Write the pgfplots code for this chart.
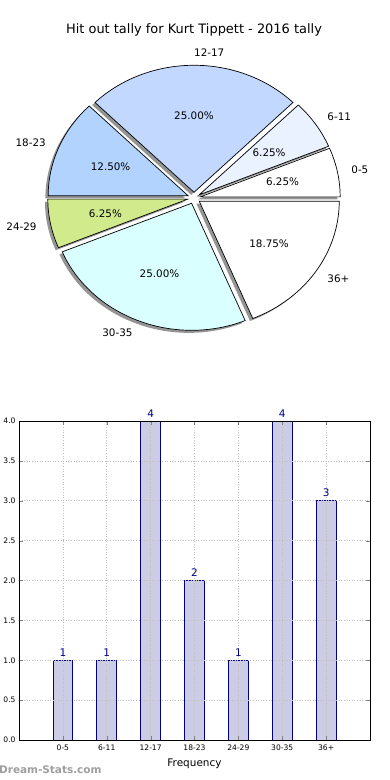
\documentclass[border=0pt]{standalone}
\usepackage{fontspec}
\setmainfont{DejaVu Sans}
\usepackage{pgfplots}
\usepackage{pgfplotstable}
\pgfplotsset{compat=1.18}
\definecolor{pie0}{RGB}{255,255,255}
\definecolor{pie1}{RGB}{234,241,255}
\definecolor{pie2}{RGB}{195,216,255}
\definecolor{pie3}{RGB}{179,211,255}
\definecolor{pie4}{RGB}{208,234,140}
\definecolor{pie5}{RGB}{218,255,255}
\definecolor{pie6}{RGB}{255,255,255}
\definecolor{barfill}{RGB}{204,204,228}
\definecolor{barnavy}{RGB}{0,0,139}

\pgfplotstableread{
idx label count fill
0 0-5 1 pie0
1 6-11 1 pie1
2 12-17 4 pie2
3 18-23 2 pie3
4 24-29 1 pie4
5 30-35 4 pie5
6 36+ 3 pie6
}\tally

\def\total{16}
\def\explode{0.045}
\def\rx{140bp}
\def\ry{127bp}
\newcommand\lblfont{\fontsize{10.4}{12}\selectfont}

\begin{document}
\begin{tikzpicture}
\useasboundingbox (0,0) rectangle (390bp,780bp);

% title
\node[font=\fontsize{13}{15}\selectfont] at (194bp,750bp) {Hit out tally for Kurt Tippett - 2016 tally};

% pie
\begin{axis}[at={(194bp,582bp)}, anchor=center, scale only axis,
  width=280bp, height=254bp, xmin=-1, xmax=1, ymin=-1, ymax=1,
  hide axis, clip=false]
% shadows
\def\cum{0}
\pgfplotsforeachungrouped \i in {0,...,6}{%
  \pgfplotstablegetelem{\i}{count}\of\tally \let\cnt\pgfplotsretval
  \pgfmathsetmacro\angA{\cum/\total*360}%
  \pgfmathsetmacro\angB{(\cum+\cnt)/\total*360}%
  \pgfmathsetmacro\angM{(\angA+\angB)/2}%
  \pgfmathsetmacro\cx{\explode*cos(\angM)-0.02}%
  \pgfmathsetmacro\cy{\explode*sin(\angM)-0.02}%
  \edef\tmp{\noexpand\fill[black,opacity=0.42] (axis cs:\cx,\cy) -- ++(\angA:\rx\space and \ry) arc[start angle=\angA, end angle=\angB, x radius=\rx, y radius=\ry] -- cycle;}\tmp
  \pgfmathsetmacro\cum{\cum+\cnt}%
}
% wedges
\def\cum{0}
\pgfplotsforeachungrouped \i in {0,...,6}{%
  \pgfplotstablegetelem{\i}{count}\of\tally \let\cnt\pgfplotsretval
  \pgfplotstablegetelem{\i}{label}\of\tally \let\lab\pgfplotsretval
  \pgfplotstablegetelem{\i}{fill}\of\tally \let\col\pgfplotsretval
  \pgfmathsetmacro\angA{\cum/\total*360}%
  \pgfmathsetmacro\angB{(\cum+\cnt)/\total*360}%
  \pgfmathsetmacro\angM{(\angA+\angB)/2}%
  \pgfmathsetmacro\cx{\explode*cos(\angM)}%
  \pgfmathsetmacro\cy{\explode*sin(\angM)}%
  \pgfmathsetmacro\px{(\explode+0.6)*cos(\angM)}%
  \pgfmathsetmacro\py{(\explode+0.6)*sin(\angM)}%
  \pgfmathsetmacro\lx{(\explode+1.1)*cos(\angM)}%
  \pgfmathsetmacro\ly{(\explode+1.1)*sin(\angM)}%
  \pgfmathsetmacro\pct{\cnt/\total*100}%
  \pgfmathparse{cos(\angM)<-0.001 ? "east" : "west"}\let\anc\pgfmathresult
  \edef\tmp{\noexpand\filldraw[fill=\col, draw=black, line width=0.7bp] (axis cs:\cx,\cy) -- ++(\angA:\rx\space and \ry) arc[start angle=\angA, end angle=\angB, x radius=\rx, y radius=\ry] -- cycle;
    \noexpand\node[font=\noexpand\lblfont] at (axis cs:\px,\py) {\noexpand\pgfmathprintnumber[fixed,fixed zerofill,precision=2,assume math mode=true]{\pct}\noexpand\%};
    \noexpand\node[font=\noexpand\lblfont, anchor=\anc, inner sep=0pt] at (axis cs:\lx,\ly) {\lab};}\tmp
  \pgfmathsetmacro\cum{\cum+\cnt}%
}
\end{axis}

% bar chart
\begin{axis}[at={(19bp,40bp)}, anchor=south west, scale only axis,
  width=351bp, height=319bp,
  ybar, bar width=0.45,
  xmin=-1, xmax=7, ymin=0, ymax=4,
  xtick={0,...,6}, xticklabels={0-5,6-11,12-17,18-23,24-29,30-35,36+},
  ytick={0,0.5,...,4},
  /pgf/number format/assume math mode=true,
  yticklabel style={/pgf/number format/.cd,fixed,fixed zerofill,precision=1,assume math mode=true},
  tick label style={font=\fontsize{7.6}{9}\selectfont},
  xticklabel style={yshift=-1bp},
  tick align=inside, major tick length=4bp,
  grid=major, grid style={dash pattern=on 1bp off 1.6bp, gray!50, line width=0.7bp},
  axis on top,
  axis line style={line width=0.8bp},
  xlabel={Frequency}, xlabel style={font=\fontsize{10.5}{12}\selectfont, yshift=-2bp},
  nodes near coords,
  nodes near coords style={font=\fontsize{10.5}{12}\selectfont, text=barnavy},
]
\addplot[fill=barfill, draw=barnavy, line width=0.8bp] table[x=idx, y=count] {\tally};
\end{axis}

\node[anchor=west, font=\bfseries\fontsize{10.5}{12}\selectfont, text=black!38, inner sep=0pt] at (-1bp,10bp) {Dream-Stats.com};
\end{tikzpicture}
\end{document}
